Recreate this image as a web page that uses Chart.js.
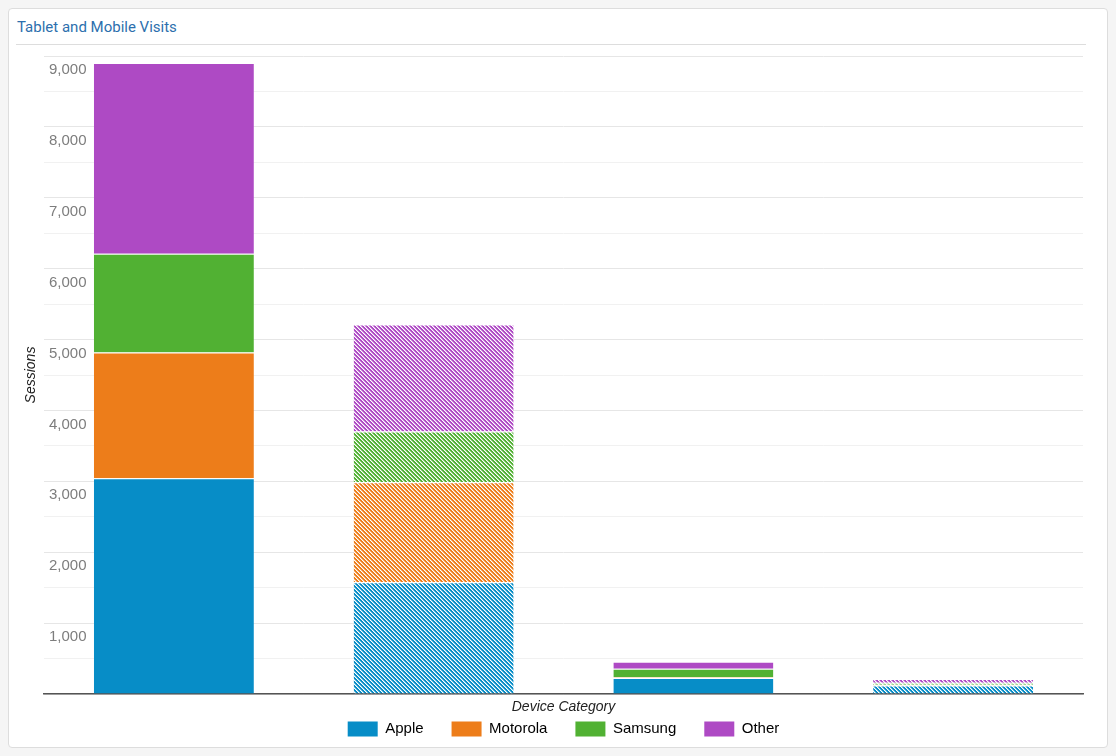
<!DOCTYPE html>
<html>
<head>
<meta charset="utf-8">
<script src="https://cdn.jsdelivr.net/npm/chart.js@4.4.1/dist/chart.umd.min.js"></script>
<style>
  body { margin: 0; background: #f5f5f5; font-family: "Liberation Sans", Arial, sans-serif; overflow: hidden; }
  #card { position: absolute; left: 8px; top: 8px; width: 1098px; height: 738px; background: #fff; border: 1px solid #ddd; border-radius: 4px; }
  #title { position: absolute; left: 8px; top: 10px; font: 15px Roboto, "Liberation Sans", sans-serif; line-height: 16px; color: #2c6fad; }
  #sep { position: absolute; left: 7px; top: 35px; width: 1070px; border-top: 1px solid #ddd; }
  #wrap { position: absolute; left: 7px; top: 37px; width: 1078px; height: 700px; }
</style>
</head>
<body>
<div id="card">
  <div id="title">Tablet and Mobile Visits</div>
  <div id="sep"></div>
  <div id="wrap"><canvas id="grafico"></canvas></div>
</div>
<script>
// Datos del gráfico
const categorias = ["Mobile", "Mobile (previous period)", "Tablet", "Tablet (previous period)"];
const marcas = ["Apple", "Motorola", "Samsung", "Other"];
const apple = [3042, 1577, 225, 121];
const motorola = [1775, 1409, 10, 8];
const samsung = [1394, 718, 121, 28];
const other = [2690, 1507, 99, 56];
const colores = ["#078dc7", "#ed7d1a", "#51b133", "#ae4ac4"];

// Relleno rayado para el periodo anterior
function rayado(color) {
  const c = document.createElement("canvas");
  c.width = 4; c.height = 4;
  const g = c.getContext("2d");
  g.fillStyle = color;
  g.fillRect(0, 0, 4, 4);
  for (let i = 0; i < 4; i++) {
    g.fillStyle = "#fff";
    g.fillRect(i, i, 1, 1);
    g.fillStyle = "rgba(255,255,255,0.5)";
    g.fillRect((i + 1) % 4, i, 1, 1);
  }
  return g.createPattern(c, "repeat");
}

function serie(label, datos, color) {
  const p = rayado(color);
  return {
    label: label,
    data: datos,
    backgroundColor: [color, p, color, p],
    borderColor: "#fff",
    borderWidth: { top: 1, left: 0, right: 0, bottom: 0 },
    borderSkipped: false,
    barPercentage: 0.77,
    categoryPercentage: 0.8
  };
}

const PAD_LEYENDA = 28;

// La leyenda ocupa poco alto pero conserva la separación horizontal
const ajusteLeyenda = {
  id: "ajusteLeyenda",
  afterInit(chart) {
    const l = chart.legend;
    const fitOriginal = l.fit;
    l.fit = function () { fitOriginal.call(this); this.height = 18; };
  },
  afterLayout(chart) {
    const l = chart.legend;
    const centro = l.bottom - 17;
    l.top = centro - PAD_LEYENDA - 7.5;
    l.left += 14;
    l.right += 14;
  }
};

const ctx = document.getElementById("grafico").getContext("2d");
const chart = new Chart(ctx, {
  type: "bar",
  data: {
    labels: categorias,
    datasets: [
      serie(marcas[0], apple, colores[0]),
      serie(marcas[1], motorola, colores[1]),
      serie(marcas[2], samsung, colores[2]),
      serie(marcas[3], other, colores[3])
    ]
  },
  plugins: [ajusteLeyenda],
  options: {
    responsive: true,
    maintainAspectRatio: false,
    animation: false,
    layout: { padding: { top: 10, right: 11, left: 0, bottom: 0 } },
    plugins: {
      tooltip: { enabled: false },
      legend: {
        position: "bottom",
        labels: {
          boxWidth: 30,
          boxHeight: 15,
          padding: PAD_LEYENDA,
          color: "#222",
          font: { size: 15, family: "'Liberation Sans', Arial, sans-serif" },
          generateLabels: () => marcas.map((m, i) => ({
            text: m, fillStyle: colores[i], strokeStyle: colores[i], lineWidth: 0, datasetIndex: i
          }))
        }
      }
    },
    scales: {
      x: {
        stacked: true,
        afterFit: s => { s.height = 34; },
        ticks: { display: false },
        grid: { display: false },
        border: { color: "#555", width: 1.5 },
        title: {
          display: true,
          text: "Device Category",
          color: "#222",
          font: { size: 14, style: "italic", family: "'Liberation Sans', Arial, sans-serif" },
          padding: { top: 0, bottom: 12.6 }
        }
      },
      y: {
        stacked: true,
        min: 0,
        max: 9000,
        afterFit: s => { s.width = 28; s.paddingTop = 0; s.paddingBottom = 0; },
        ticks: {
          stepSize: 500,
          autoSkip: false,
          mirror: true,
          padding: 5,
          labelOffset: 14,
          color: "#7d7d7d",
          font: { size: 15, family: "'Liberation Sans', Arial, sans-serif" },
          callback: v => (v > 0 && v % 1000 === 0) ? v.toLocaleString("en-US") : ""
        },
        grid: {
          drawTicks: false,
          color: c => (c.tick && c.tick.value % 1000 === 0) ? "#e6e6e6" : "#f1f1f1"
        },
        border: { display: false },
        title: {
          display: true,
          text: "Sessions",
          color: "#222",
          font: { size: 14, style: "italic", family: "'Liberation Sans', Arial, sans-serif" },
          padding: { top: 7, bottom: 0 }
        }
      }
    }
  }
});
</script>
</body>
</html>
